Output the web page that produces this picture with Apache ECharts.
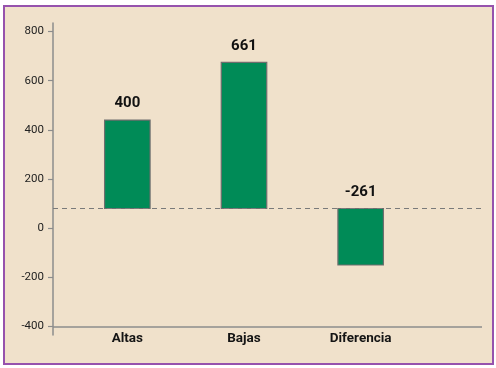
<!DOCTYPE html>
<html>
<head>
<meta charset="utf-8">
<script src="https://cdn.jsdelivr.net/npm/echarts@6/dist/echarts.min.js"></script>
<style>
  html, body { margin: 0; padding: 0; background: #ffffff; }
  #frame { position: absolute; left: 3px; top: 5px; width: 491px; height: 360px; box-sizing: border-box; border: 2px solid #9652ad; background: #f0e1cb; }
  #chart { position: absolute; left: 0; top: 0; width: 496px; height: 368px; }
</style>
</head>
<body>
<div id="frame"></div>
<div id="chart"></div>
<script>
// ---- data ----
const categories = ['Altas', 'Bajas', 'Diferencia'];
const labelValues = [400, 661, -261];          // printed values
const barEnds = [440, 675, -150];              // bar ends as drawn on the axis
const baseline = 80;                           // dashed reference line / bar base
const yTicks = [-400, -200, 0, 200, 400, 600, 800];

const FONT = "Roboto, 'Liberation Sans', sans-serif";
const AXIS_COLOR = '#8c8c8c';
const Y_MIN = -435, Y_MAX = 835;

const chart = echarts.init(document.getElementById('chart'), null, { renderer: 'canvas' });

const barData = categories.map((c, i) => [i, barEnds[i], labelValues[i]]);

chart.setOption({
  backgroundColor: 'transparent',
  animation: false,
  grid: [
    { left: 53, right: 14, top: 23, bottom: 33 },
    { left: 69, right: 77, top: 23, bottom: 33 }
  ],
  xAxis: [
    { gridIndex: 0, type: 'value', min: 0, max: 1, show: false },
    {
      gridIndex: 1, type: 'category', data: categories,
      position: 'bottom', offset: -10,
      axisLine: { show: false }, axisTick: { show: false },
      axisLabel: { margin: 7, fontFamily: FONT, fontSize: 13.5, fontWeight: 'bold', color: '#141414' }
    }
  ],
  yAxis: [
    {
      gridIndex: 0, type: 'value', min: Y_MIN, max: Y_MAX,
      splitLine: { show: false },
      axisLine: { show: true, lineStyle: { color: AXIS_COLOR, width: 1.5 } },
      axisTick: { show: true, inside: false, length: 5, customValues: yTicks, lineStyle: { color: AXIS_COLOR, width: 1.2 } },
      axisLabel: { customValues: yTicks, margin: 9, fontFamily: FONT, fontSize: 11.5, color: '#222' }
    },
    { gridIndex: 1, type: 'value', min: Y_MIN, max: Y_MAX, show: false }
  ],
  series: [
    {
      type: 'custom',
      xAxisIndex: 1, yAxisIndex: 1,
      z: 2,
      data: barData,
      renderItem: function (params, api) {
        const i = api.value(0);
        const end = api.value(1);
        const p0 = api.coord([i, baseline]);
        const p1 = api.coord([i, end]);
        const w = api.size([1, 0])[0] * 0.39;
        const top = Math.min(p0[1], p1[1]);
        const h = Math.abs(p1[1] - p0[1]);
        return {
          type: 'group',
          children: [
            {
              type: 'rect',
              shape: { x: p0[0] - w / 2, y: top, width: w, height: h },
              style: { fill: '#008b57', stroke: '#6e6e6e', lineWidth: 1.2 }
            },
            {
              type: 'text',
              style: {
                x: p0[0], y: top - 9,
                text: String(api.value(2)),
                align: 'center', verticalAlign: 'bottom',
                font: 'bold 15px ' + FONT,
                fill: '#111'
              }
            }
          ]
        };
      }
    },
    {
      type: 'line',
      xAxisIndex: 0, yAxisIndex: 0,
      data: [],
      z: 5,
      silent: true,
      markLine: {
        silent: true,
        symbol: 'none',
        label: { show: false },
        animation: false,
        data: [
          { yAxis: yTicks[0], lineStyle: { color: AXIS_COLOR, width: 1.5, type: 'solid' } },
          { yAxis: baseline, lineStyle: { color: '#7a7a7a', width: 1.2, type: [5, 4] } }
        ]
      }
    }
  ]
});
</script>
</body>
</html>
